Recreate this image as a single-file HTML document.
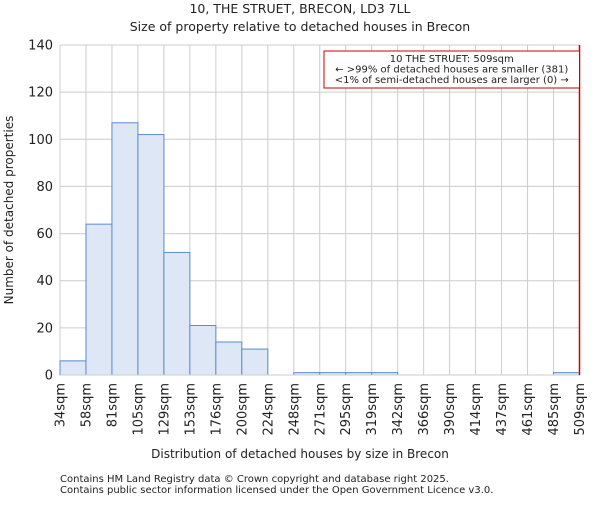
<!DOCTYPE html>
<html><head><meta charset="utf-8"><style>
body{margin:0;background:#fff;}
svg text{font-family:"DejaVu Sans","Liberation Sans",sans-serif;fill:#222;}
</style></head><body>
<svg id="chart" width="600" height="500">
<text x="300" y="13" font-size="12.5" text-anchor="middle">10, THE STRUET, BRECON, LD3 7LL</text>
<text x="300" y="31" font-size="12.5" text-anchor="middle">Size of property relative to detached houses in Brecon</text>
<g id="grid"></g><g id="bars"></g><g id="axes"></g>
<text x="300" y="458" font-size="12" text-anchor="middle">Distribution of detached houses by size in Brecon</text>
<text transform="translate(13,210) rotate(-90)" font-size="12" text-anchor="middle">Number of detached properties</text>
<text x="60" y="482" font-size="10" fill="#444">Contains HM Land Registry data © Crown copyright and database right 2025.</text>
<text x="60" y="493" font-size="10" fill="#444">Contains public sector information licensed under the Open Government Licence v3.0.</text>
</svg>
<script>
const categories=["34sqm","58sqm","81sqm","105sqm","129sqm","153sqm","176sqm","200sqm","224sqm","248sqm","271sqm","295sqm","319sqm","342sqm","366sqm","390sqm","414sqm","437sqm","461sqm","485sqm","509sqm"];
const counts=[6,64,107,102,52,21,14,11,0,1,1,1,1,0,0,0,0,0,0,1];
const yTicks=[0,20,40,60,80,100,120,140];
const markerIndex=20;
const X0=60,X1=579.5,Y0=375,Y1=45,YMAX=140;
const bw=(X1-X0)/counts.length;
const xs=i=>X0+i*bw, ys=v=>Y0-(Y0-Y1)*v/YMAX;
const NS="http://www.w3.org/2000/svg";
function mk(t,a,p){const e=document.createElementNS(NS,t);for(const k in a)e.setAttribute(k,a[k]);p.appendChild(e);return e;}
const grid=document.getElementById('grid'),bars=document.getElementById('bars'),axes=document.getElementById('axes');
yTicks.forEach(v=>{
 const l=mk('line',{x1:X0,x2:X1,y1:ys(v),y2:ys(v),stroke:'#ccc'},grid);
 
 
 const t=mk('text',{x:X0-7,y:ys(v)+4.5,'font-size':13,'text-anchor':'end'},axes);t.textContent=v;
 
 
});
categories.forEach((c,i)=>{
 const x=xs(i);
 const l=mk('line',{x1:x,x2:x,y1:Y1,y2:Y0,stroke:'#ccc'},grid);
 
 
 const t=mk('text',{transform:`translate(${x+4.5},${Y0+8}) rotate(-90)`,'font-size':13,'text-anchor':'end'},axes);t.textContent=c;
 
 
});
counts.forEach((v,i)=>{
 if(v<=0)return;
 const r=mk('rect',{x:xs(i),y:ys(v),width:bw,height:Y0-ys(v),fill:'#dde7f5',stroke:'#5b8bd0','stroke-width':1},bars);
 
 
});
const ax=mk('line',{x1:X0,x2:X1,y1:Y0,y2:Y0,stroke:'#ccc'},axes);


const mx=xs(markerIndex);
const ml=mk('line',{x1:mx,x2:mx,y1:Y1,y2:Y0,stroke:'#cc0000','stroke-width':1.5},axes);


const box=mk('rect',{x:324,y:51,width:mx-324,height:37,fill:'#fff',stroke:'#cc0000'},axes);


["10 THE STRUET: 509sqm","← >99% of detached houses are smaller (381)","<1% of semi-detached houses are larger (0) →"].forEach((s,i)=>{
 const t=mk('text',{x:(324+mx)/2,y:62+i*10.5,'font-size':10,'text-anchor':'middle'},axes);t.textContent=s;
 
 
});
</script>
</body></html>
